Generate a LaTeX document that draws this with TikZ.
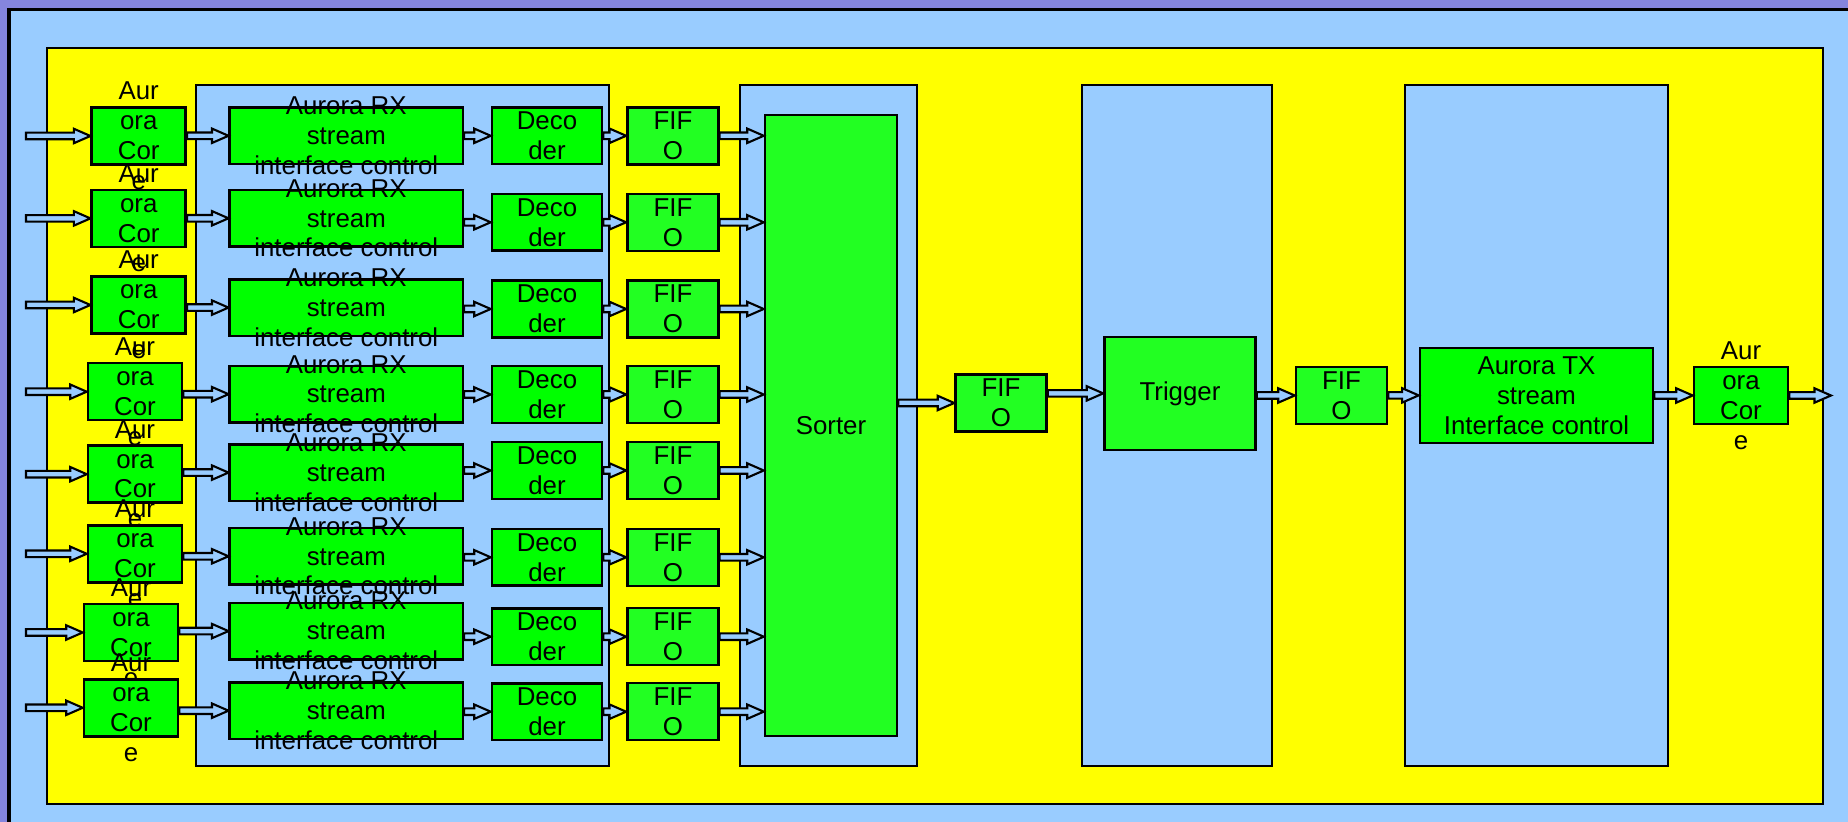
\documentclass[tikz,border=0pt]{standalone}
\usepackage{fontspec}
\setmainfont{Liberation Sans}
\usepackage{tikz}
\usetikzlibrary{calc}
\definecolor{auviolet}{HTML}{8585DD}
\definecolor{aublue}{HTML}{99CCFF}
\definecolor{auyellow}{HTML}{FFFF00}
\definecolor{augreen}{HTML}{00FF00}
\definecolor{aulime}{HTML}{22FF22}
\newcommand{\busarrow}[2]{\draw[bus] let \p1=#1, \p2=#2 in
  (\x1,\y2+0.033cm) -- (\x2-0.165cm,\y2+0.033cm) -- (\x2-0.165cm,\y2+0.072cm) -- (\x2,\y2)
  -- (\x2-0.165cm,\y2-0.072cm) -- (\x2-0.165cm,\y2-0.033cm) -- (\x1,\y2-0.033cm) -- cycle;}
\tikzset{
  grp/.style={draw=black,fill=aublue,line width=0.024cm},
  txt/.style={align=center,inner sep=0pt,font=\fontsize{7.35}{8.5}\selectfont},
  blk/.style={txt,draw=black,fill=augreen,line width=0.025cm},
  core/.style={blk,minimum width=0.94cm,minimum height=0.57cm},
  rxc/.style={blk,minimum width=2.33cm,minimum height=0.565cm},
  dec/.style={blk,minimum width=1.10cm,minimum height=0.565cm},
  fifo/.style={blk,fill=aulime,minimum width=0.91cm,minimum height=0.57cm},
  bus/.style={draw=black,fill=aublue,line width=0.021cm,line join=miter},
}
\begin{document}
\begin{tikzpicture}[x=0.01cm,y=-0.01cm]
  \useasboundingbox (0,0) rectangle (1848,822);
  \fill[auviolet] (0,0) rectangle (1848,822);
  \draw[grp,line width=0.03cm] (9,10) rectangle (1870,840);
  \draw[line width=0.028cm,fill=auyellow] (47,48) rectangle (1823,804);

  % panels
  \draw[grp] (196,85) rectangle (609,766);
  \draw[grp] (740,85) rectangle (917,766);
  \draw[grp] (1082,85) rectangle (1272,766);
  \draw[grp] (1405,85) rectangle (1668,766);

  \node[fifo,minimum width=1.32cm,minimum height=6.21cm] (sorter) at (831,425.5) {Sorter};

  % eight receive lanes
  \foreach \i/\xc/\yc/\yr/\yd in {1/138.7/136/135.8/135.8, 2/138.7/218.4/218.3/222.3,
      3/138.7/305/307.6/309, 4/135/391.7/394.2/394.5, 5/135/474.2/472.6/470.5,
      6/135/553.8/556.3/557.3, 7/131/632.5/631.1/636.7, 8/131/707.8/710.7/711.7} {
    \coordinate (in\i) at (26,\yc);
    \node[core,label={[txt]center:Aur\\ora\\Cor\\e}] (core\i) at (\xc,\yc) {};
    \node[rxc,label={[txt]center:Aurora RX\\stream\\interface control}] (rx\i) at (346.3,\yr) {};
    \node[dec,label={[txt]center:Deco\\der}] (dec\i) at (547,\yd) {};
    \node[fifo,label={[txt]center:FIF\\O}] (fifo\i) at (672.9,\yd) {};
    \busarrow{(in\i)}{(core\i.west)}
    \busarrow{(core\i.east)}{(rx\i.west)}
    \busarrow{(rx\i.east)}{(dec\i.west)}
    \busarrow{(dec\i.east)}{(fifo\i.west)}
    \busarrow{(fifo\i.east)}{(sorter.west |- fifo\i.east)}
  }

  \node[fifo,label={[txt]center:FIF\\O}] (fifo9) at (1001,403) {};
  \node[fifo,minimum width=1.51cm,minimum height=1.13cm] (trig) at (1180,393.4) {Trigger};
  \node[fifo,label={[txt]center:FIF\\O}] (fifo10) at (1341.5,395.5) {};
  \node[blk,minimum width=2.33cm,minimum height=0.95cm] (tx) at (1536.5,395.4) {Aurora TX\\stream\\Interface control};
  \node[core,label={[txt]center:Aur\\ora\\Cor\\e}] (coreout) at (1741,395.5) {};
  \coordinate (out) at (1831,395.5);

  \busarrow{(sorter.east)}{(fifo9.west)}
  \busarrow{(fifo9.east)}{(trig.west)}
  \busarrow{(trig.east)}{(fifo10.west)}
  \busarrow{(fifo10.east)}{(tx.west)}
  \busarrow{(tx.east)}{(coreout.west)}
  \busarrow{(coreout.east)}{(out)}
\end{tikzpicture}
\end{document}
